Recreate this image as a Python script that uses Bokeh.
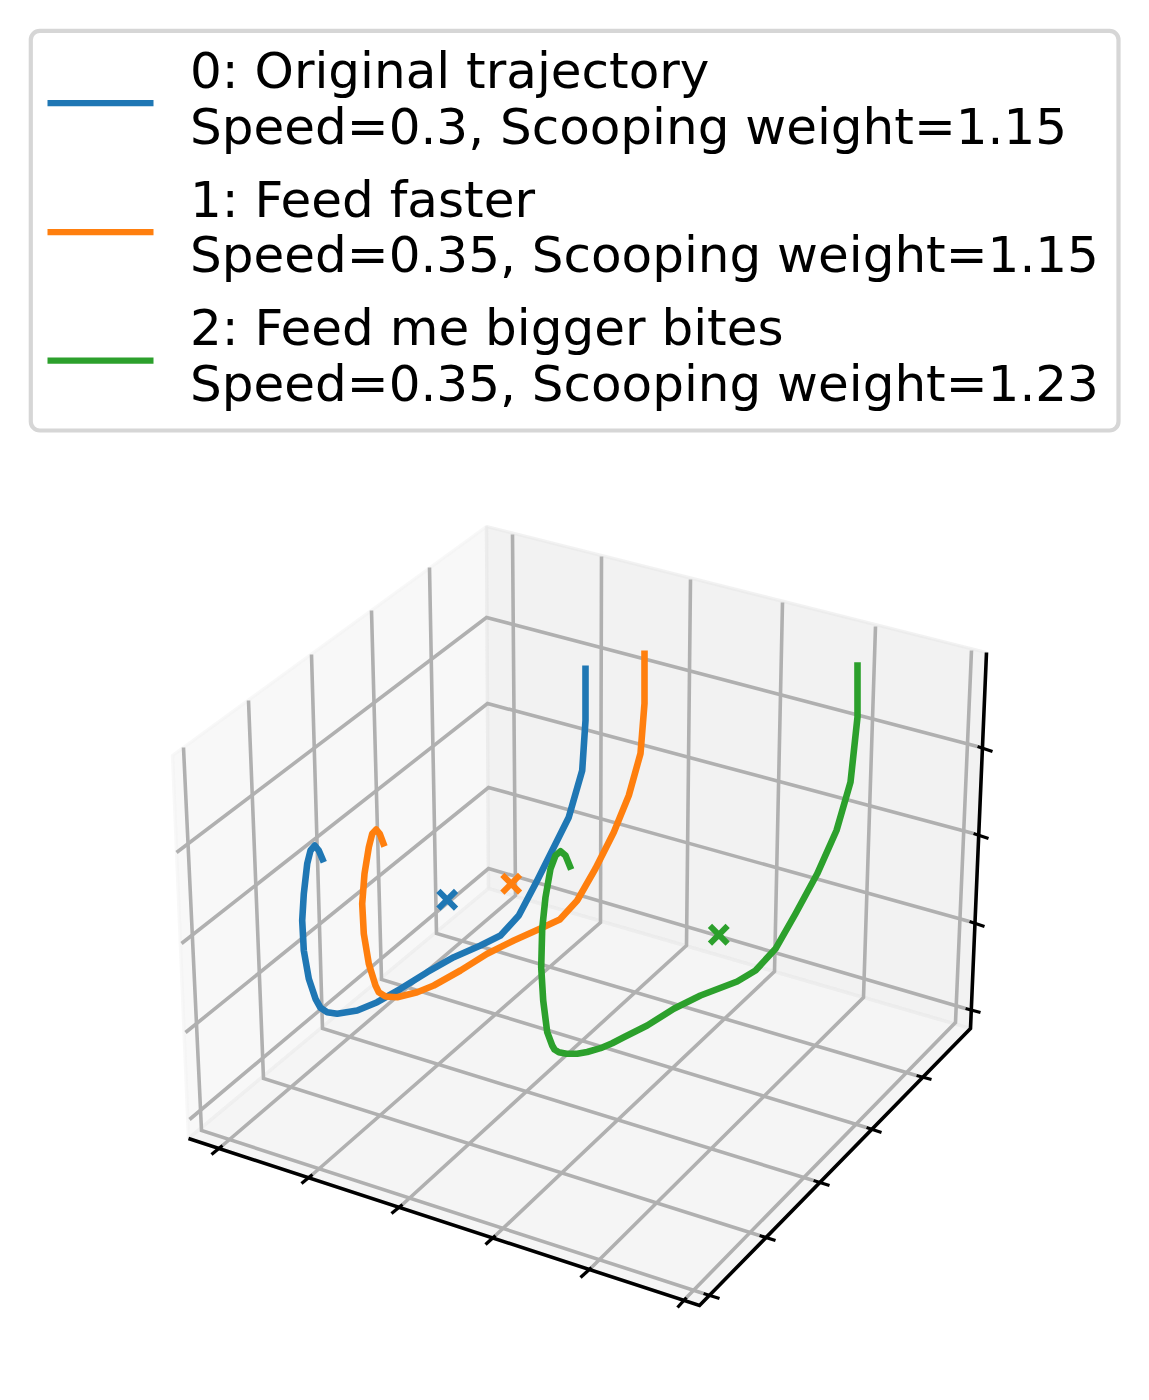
from bokeh.plotting import figure
from bokeh.models import Range1d, BoxAnnotation
from bokeh.core.properties import value
from bokeh.embed import file_html
from bokeh.resources import INLINE

# Trajectories and goal markers (image pixels)
traj0_x = [585, 585, 581.7, 568.3, 556.7, 536.7, 518.3, 500, 480, 453.3, 426.7, 400, 376.7, 356.7, 336.7, 326.7, 320, 315, 308.3, 303.3, 301.7, 303.3, 306.7, 310, 314.3, 318.3, 323.3]
traj0_y = [665, 720, 770, 816.7, 840, 880, 915, 935, 945, 956.7, 971.7, 988.3, 1001.7, 1010, 1013.3, 1011.7, 1007.3, 998.3, 978.3, 950, 920, 893.3, 863.3, 850, 845, 850, 861.7]
traj1_x = [644, 644, 640, 628.3, 613.3, 595, 576.7, 559.3, 540, 513.3, 486.7, 460, 433.3, 416.7, 396.7, 385, 378.3, 375, 368.3, 363.3, 361.7, 364, 368.3, 371.7, 375.7, 379.3, 384]
traj1_y = [650, 703, 753, 795, 831.7, 868, 900, 919, 928, 940, 953.3, 970, 985, 991.7, 996.7, 996, 991.7, 985, 963.3, 933.3, 903.3, 873.3, 846.7, 833.3, 829, 833.3, 846]
traj2_x = [857, 857, 850, 836, 816.7, 795, 775, 755, 736.7, 700, 673.3, 646.7, 623.3, 611.7, 600, 586.7, 576.7, 566, 558.3, 554, 551.7, 546.7, 542.7, 540.7, 541.7, 545, 550, 555, 560, 565, 570.7]
traj2_y = [661.7, 716.7, 781.7, 830, 873.3, 913.3, 948.3, 970, 981, 995, 1008.3, 1025, 1036.7, 1042.7, 1047.7, 1051.5, 1053.3, 1053.3, 1051.7, 1049, 1045, 1031.7, 1000, 966.7, 928.3, 896.7, 868.3, 855, 850.7, 855, 869]
goal_x = [446.7, 510.7, 718.3]
goal_y = [899.3, 883.3, 934.3]
series_colors = ["#1f77b4", "#ff7f0e", "#2ca02c"]

legend_lines = [
    ["0: Original trajectory", "Speed=0.3, Scooping weight=1.15"],
    ["1: Feed faster", "Speed=0.35, Scooping weight=1.15"],
    ["2: Feed me bigger bites", "Speed=0.35, Scooping weight=1.23"],
]
legend_baselines = [[87, 143], [216, 271], [344, 400]]
legend_handle_y = [102.7, 231.7, 360]

# 3D box outline
left_wall_x = [172, 486, 488, 188]
left_wall_y = [755, 526, 888, 1138]
back_wall_x = [486, 986, 970, 488]
back_wall_y = [526, 652, 1028, 888]
floor_x = [188, 699, 970, 488]
floor_y = [1138, 1305, 1028, 888]

# grid polylines: left wall top -> left wall bottom -> front-right tick
gx_top_x = [183, 248, 311, 371, 429]
gx_top_y = [747, 700, 654, 610, 567]
gx_bot_x = [201, 263, 322, 381, 436]
gx_bot_y = [1130, 1078, 1028, 979, 933]
gx_end_x = [703, 759, 813, 866, 916]
gx_end_y = [1293, 1235, 1180, 1127, 1075]
gx_tick_x = [719, 775, 829, 881, 931]
gx_tick_y = [1298, 1240, 1185, 1132, 1079]

# grid polylines: back wall top -> back wall bottom -> front tick
gy_top_x = [512, 601, 690, 782, 875, 971]
gy_top_y = [534, 556, 579, 602, 626, 650]
gy_bot_x = [515, 600, 686, 774, 863, 955]
gy_bot_y = [895, 922, 945, 971, 997, 1022]
gy_end_x = [222, 312, 402, 495, 591, 686]
gy_end_y = [1145, 1174, 1204, 1235, 1267, 1297]
gy_tick_x = [211, 301, 391, 485, 580, 677]
gy_tick_y = [1154, 1183, 1213, 1244, 1277, 1307]

# grid polylines: left wall -> back corner -> right tick
gz_left_x = [176, 181, 185, 189]
gz_left_y = [852, 943, 1032, 1119]
gz_back_x = [486, 487, 488, 488]
gz_back_y = [617, 703, 787, 868]
gz_end_x = [977, 973, 969, 965]
gz_end_y = [746, 833, 921, 1008]
gz_tick_x = [992, 988, 984, 980]
gz_tick_y = [751, 838, 926, 1012]

axis_x = [188, 699, 970, 986]
axis_y = [1138, 1305, 1028, 652]

p = figure(width=1133, height=1384, output_backend="svg", toolbar_location=None,
           x_range=Range1d(0, 1133), y_range=Range1d(1384, 0),
           x_axis_type=None, y_axis_type=None, min_border=0,
           outline_line_color=None, background_fill_color="white", border_fill_color="white")
p.grid.visible = False

# panes
for xs, ys, g in ((left_wall_x, left_wall_y, "#F2F2F2"),
                  (back_wall_x, back_wall_y, "#E6E6E6"),
                  (floor_x, floor_y, "#ECECEC")):
    p.patch(xs, ys, fill_color=g, fill_alpha=0.5, line_color=g, line_alpha=0.5, line_width=3.3)

# gridlines
GRID = dict(line_color="#B0B0B0", line_width=3.6, line_join="miter", line_cap="butt")
p.multi_line([[a, b, c] for a, b, c in zip(gx_top_x, gx_bot_x, gx_end_x)],
             [[a, b, c] for a, b, c in zip(gx_top_y, gx_bot_y, gx_end_y)], **GRID)
p.multi_line([[a, b, c] for a, b, c in zip(gy_top_x, gy_bot_x, gy_end_x)],
             [[a, b, c] for a, b, c in zip(gy_top_y, gy_bot_y, gy_end_y)], **GRID)
p.multi_line([[a, b, c] for a, b, c in zip(gz_left_x, gz_back_x, gz_end_x)],
             [[a, b, c] for a, b, c in zip(gz_left_y, gz_back_y, gz_end_y)], **GRID)

# ticks
TICK = dict(line_color="black", line_width=3.3, line_cap="butt")
p.segment(gx_end_x, gx_end_y, gx_tick_x, gx_tick_y, **TICK)
p.segment(gy_end_x, gy_end_y, gy_tick_x, gy_tick_y, **TICK)
p.segment(gz_end_x, gz_end_y, gz_tick_x, gz_tick_y, **TICK)

# axis lines
p.line(axis_x, axis_y, line_color="black", line_width=3.6, line_join="miter", line_cap="butt")

# trajectories and goals
for xs, ys, c in zip((traj0_x, traj1_x, traj2_x), (traj0_y, traj1_y, traj2_y), series_colors):
    p.line(xs, ys, line_color=c, line_width=6.6, line_join="round", line_cap="butt")
p.scatter(goal_x, goal_y, marker="x", size=25, line_width=6, line_color=series_colors, fill_color=None)

# legend frame
p.add_layout(BoxAnnotation(left=30.3, right=1118, top=30.3, bottom=430, border_radius=9,
                           fill_color="white", fill_alpha=1.0,
                           line_color="#D6D6D6", line_alpha=1.0, line_width=4.2, level="annotation"))
for labels, ys, hy, c in zip(legend_lines, legend_baselines, legend_handle_y, series_colors):
    p.line([47, 153], [hy, hy], line_color=c, line_width=6.25, line_cap="butt", level="overlay")
    p.text([189.5, 189.5], ys, text=labels, text_color="black", text_font=value("DejaVu Sans"),
           text_font_size="50px", text_baseline="alphabetic", text_align="left", y_offset=-17, level="overlay")

open("out.html", "w").write(file_html(p, INLINE))
